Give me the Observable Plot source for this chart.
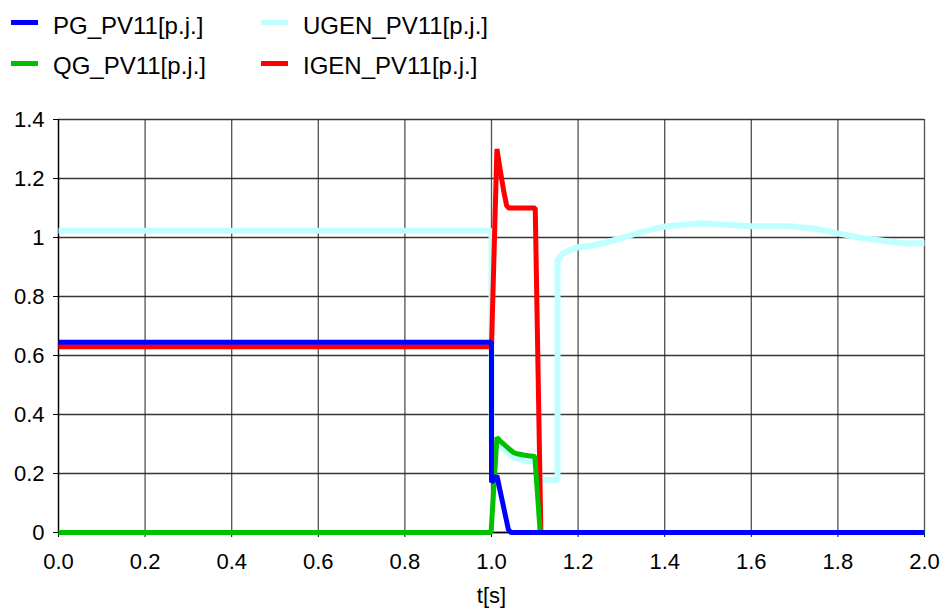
<!DOCTYPE html>
<html>
<head>
<meta charset="utf-8">
<script src="https://cdn.jsdelivr.net/npm/d3@7"></script>
<script src="https://cdn.jsdelivr.net/npm/@observablehq/plot@0.6"></script>
<style>
  html, body { margin: 0; padding: 0; background: #fff; }
  #wrap { position: relative; width: 942px; height: 610px; font-family: Arial, "Liberation Sans", sans-serif; }
  #legend { position: relative; width: 942px; height: 100px; }
  .sw { position: absolute; width: 27px; height: 5px; }
  .lt { position: absolute; font-size: 24px; line-height: 24px; color: #000; white-space: nowrap; }
</style>
</head>
<body>
<div id="wrap">
  <div id="legend"></div>
  <div id="chart"></div>
</div>
<script>
// Series names and colours
const seriesNames = ["PG_PV11[p.j.]", "QG_PV11[p.j.]", "UGEN_PV11[p.j.]", "IGEN_PV11[p.j.]"];
const seriesColors = ["#0000ff", "#00c000", "#c0ffff", "#ff0000"];

// PG_PV11
const pgT = [0, 1.0, 1.0, 1.0125, 1.039, 1.045, 2.0];
const pgV = [0.645, 0.645, 0.170, 0.192, 0.01, 0, 0];

// QG_PV11
const qgT = [0, 0.999, 1.0125, 1.02, 1.028, 1.04, 1.051, 1.062, 1.074, 1.086, 1.1, 1.1125, 2.0];
const qgV = [0, 0, 0.322, 0.31, 0.30, 0.284, 0.271, 0.266, 0.2625, 0.26, 0.258, 0, 0];

// UGEN_PV11
const ugT = [0, 1.0, 1.0, 1.0125, 1.028, 1.051, 1.074, 1.1, 1.116, 1.1525, 1.1525, 1.163, 1.182, 1.2, 1.228, 1.267, 1.305, 1.344, 1.4, 1.482, 1.6, 1.689, 1.752, 1.8, 1.852, 1.913, 1.96, 2.0];
const ugV = [1.023, 1.023, 0.30, 0.305, 0.283, 0.254, 0.245, 0.24, 0.178, 0.178, 0.921, 0.944, 0.958, 0.967, 0.972, 0.984, 1.0, 1.018, 1.037, 1.048, 1.038, 1.038, 1.029, 1.014, 0.999, 0.987, 0.980, 0.981];

// IGEN_PV11
const igT = [0, 1.0, 1.0125, 1.02, 1.028, 1.035, 1.04, 1.101, 1.114];
const igV = [0.63, 0.63, 1.30, 1.23, 1.159, 1.108, 1.10, 1.10, 0];

// Ticks
const xTicks = [0, 0.2, 0.4, 0.6, 0.8, 1.0, 1.2, 1.4, 1.6, 1.8, 2.0];
const yTicks = [0, 0.2, 0.4, 0.6, 0.8, 1.0, 1.2, 1.4];
const xLabel = "t[s]";

const zip = (ts, vs) => ts.map((t, i) => ({t, v: vs[i]}));
const pg = zip(pgT, pgV), qg = zip(qgT, qgV), ug = zip(ugT, ugV), ig = zip(igT, igV);

// Legend (HTML, above the SVG)
const legend = document.getElementById("legend");
const legendPos = [
  {sx: 11, tx: 53, sy: 19.5, ty: 13.7},
  {sx: 11, tx: 53, sy: 61, ty: 53.7},
  {sx: 261, tx: 303, sy: 19.5, ty: 13.7},
  {sx: 261, tx: 303, sy: 61, ty: 53.7}
];
seriesNames.forEach((name, i) => {
  const p = legendPos[i];
  const sw = document.createElement("div");
  sw.className = "sw";
  sw.style.left = p.sx + "px"; sw.style.top = p.sy + "px";
  sw.style.background = seriesColors[i];
  legend.appendChild(sw);
  const lt = document.createElement("div");
  lt.className = "lt";
  lt.style.left = p.tx + "px"; lt.style.top = p.ty + "px";
  lt.textContent = name;
  legend.appendChild(lt);
});

const lineOpts = (color, w) => ({x: "t", y: "v", stroke: color, strokeWidth: w, strokeLinejoin: "miter", strokeLinecap: "butt", curve: "linear"});

const chart = Plot.plot({
  width: 942,
  height: 510,
  marginTop: 19,
  marginBottom: 78,
  marginLeft: 58,
  marginRight: 18,
  x: {domain: [0, 2]},
  y: {domain: [0, 1.4]},
  style: {fontFamily: 'Arial, "Liberation Sans", sans-serif', fontSize: "22px", color: "#000", background: "#fff", overflow: "visible"},
  marks: [
    Plot.gridX(xTicks, {stroke: "#333", strokeOpacity: 0.85, strokeWidth: 1.3}),
    Plot.gridY(yTicks, {stroke: "#222", strokeOpacity: 0.9, strokeWidth: 1.3}),
    Plot.axisX(xTicks, {tickSize: 5, tickPadding: 16, tickFormat: d => d.toFixed(1), label: null, fontSize: 22}),
    Plot.axisY(yTicks, {tickSize: 5, tickPadding: 9, tickFormat: d => String(Math.round(d * 10) / 10), label: null, fontSize: 22}),
    Plot.ruleX([0], {stroke: "#000", strokeWidth: 1.3}),
    Plot.ruleY([0], {stroke: "#000", strokeWidth: 1.3}),
    Plot.line(ug, lineOpts(seriesColors[2], 6)),
    Plot.line(ig, lineOpts(seriesColors[3], 5)),
    Plot.line(qg, lineOpts(seriesColors[1], 5)),
    Plot.line(pg, lineOpts(seriesColors[0], 5)),
    Plot.text([xLabel], {text: d => d, frameAnchor: "bottom", dy: 70, fontSize: 22, fill: "#000"})
  ]
});
document.getElementById("chart").appendChild(chart);
</script>
</body>
</html>
